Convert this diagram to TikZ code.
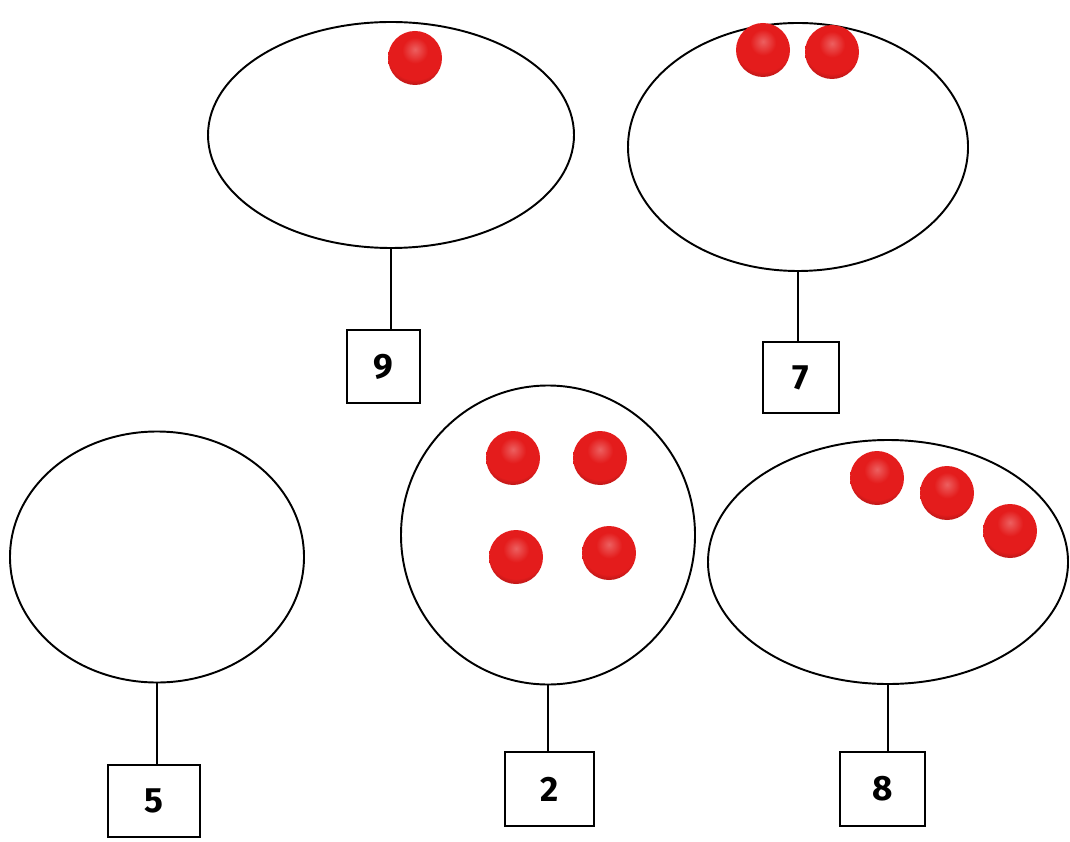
\documentclass[tikz,border=0pt]{standalone}
\usepackage{fontspec}
\setsansfont{Fira Sans}
\usetikzlibrary{shapes.geometric}
\definecolor{ballred}{RGB}{228,28,28}
\pgfdeclareradialshading{redball}{\pgfpoint{0bp}{8bp}}{%
  color(0bp)=(ballred!70!white); color(12bp)=(ballred); color(26bp)=(ballred);
  color(36bp)=(ballred!62!black); color(100bp)=(ballred!62!black)}
\tikzset{
  set/.style={draw,ellipse,line width=1.1pt,inner sep=0pt},
  numbox/.style={draw,line width=1.1pt,inner sep=0pt,font=\sffamily\bfseries\fontsize{20}{20}\selectfont},
  counter/.style={circle,shading=redball,minimum size=1.08cm,inner sep=0pt},
  stick/.style={line width=1.1pt}
}
\begin{document}
\begin{tikzpicture}
        \useasboundingbox (0,0) rectangle (21.4,-16.84);

        \node[set,minimum width=7.32cm,minimum height=4.52cm] (setA) at (7.82,-2.70) {};
        \node[set,minimum width=6.80cm,minimum height=4.96cm] (setB) at (15.96,-2.94) {};
        \node[set,minimum width=5.88cm,minimum height=5.02cm] (setC) at (3.14,-11.14) {};
        \node[set,minimum width=5.88cm,minimum height=5.98cm] (setD) at (10.96,-10.70) {};
        \node[set,minimum width=7.20cm,minimum height=4.88cm] (setE) at (17.76,-11.24) {};

        \node[numbox,minimum width=1.46cm,minimum height=1.46cm] (boxA) at (7.67,-7.33) {9};
        \node[numbox,minimum width=1.52cm,minimum height=1.42cm] (boxB) at (16.02,-7.55) {7};
        \node[numbox,minimum width=1.84cm,minimum height=1.44cm] (boxC) at (3.08,-16.02) {5};
        \node[numbox,minimum width=1.78cm,minimum height=1.48cm] (boxD) at (10.99,-15.78) {2};
        \node[numbox,minimum width=1.70cm,minimum height=1.48cm] (boxE) at (17.65,-15.78) {8};

        \foreach \s in {A,B,C,D,E}
            \draw[stick] (set\s.south) -- (set\s.south |- box\s.north);

        \node[counter] (a1) at (8.30,-1.16) {};
        \node[counter] (b1) at (15.26,-1.00) {};
        \node[counter] (b2) at (16.64,-1.04) {};
        \node[counter] (d1) at (10.26,-9.16) {};
        \node[counter] (d2) at (12.00,-9.16) {};
        \node[counter] (d3) at (10.32,-11.14) {};
        \node[counter] (d4) at (12.18,-11.06) {};
        \node[counter] (e1) at (17.54,-9.56) {};
        \node[counter] (e2) at (18.94,-9.86) {};
        \node[counter] (e3) at (20.20,-10.62) {};
    \end{tikzpicture}
\end{document}
